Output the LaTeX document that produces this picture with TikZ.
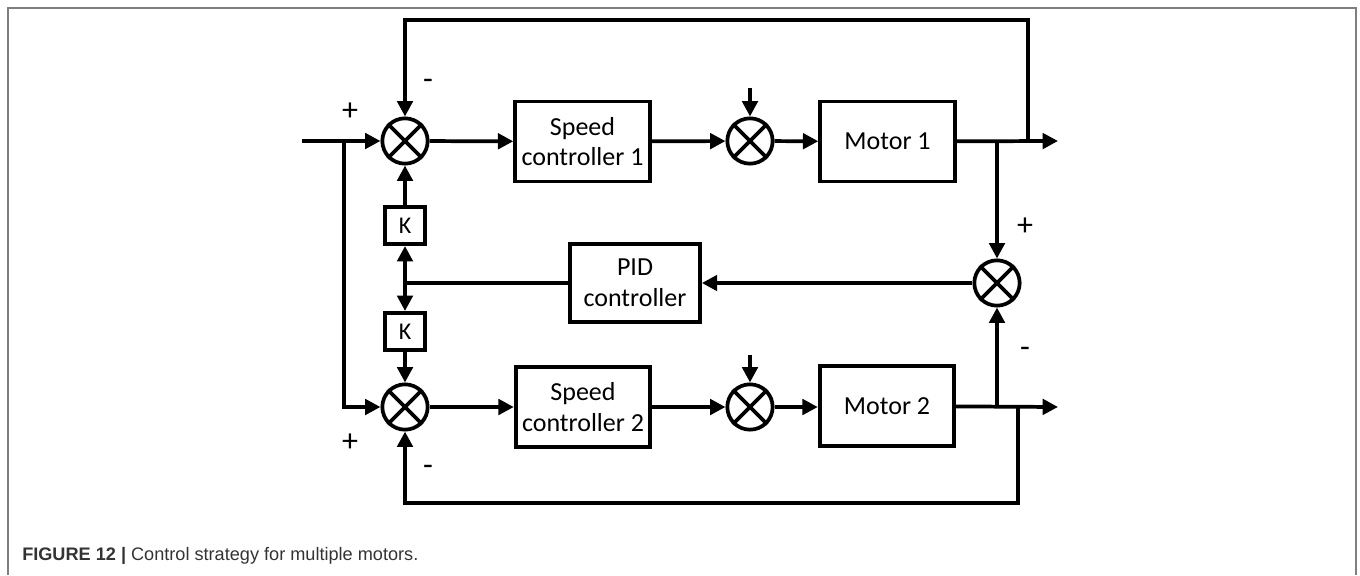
\documentclass[tikz,border=0pt]{standalone}
\usepackage{fontspec}
\setmainfont{Carlito}
\newfontfamily\capfont{Liberation Sans}
\usetikzlibrary{arrows.meta}
\definecolor{framegray}{HTML}{7F7F7F}
\definecolor{captext}{HTML}{333333}
\tikzset{
  ln/.style={line width=2.8pt},
  arr/.style={ln,-{Triangle[length=11.5pt,width=11.5pt]}},
  blk/.style={draw,ln,rectangle,minimum width=101pt,minimum height=60pt,inner sep=0pt,align=center,font=\fontsize{19.5}{23}\selectfont},
  kbox/.style={draw,ln,rectangle,minimum width=30pt,minimum height=28pt,inner sep=0pt,font=\fontsize{18}{20}\selectfont},
  sum/.style={draw,ln,circle,minimum size=34pt,inner sep=0pt},
  sgn/.style={font=\fontsize{24}{26}\selectfont,inner sep=0pt},
}
\newcommand{\crossit}[1]{\draw[ln] (#1.north west) -- (#1.south east) (#1.north east) -- (#1.south west);}
\begin{document}
\begin{tikzpicture}[x=0.75pt,y=-0.75pt]
\useasboundingbox (0,0) rectangle (1360,575);
% frame
\draw[framegray,line width=1.6pt] (8,575) -- (8,8) -- (1356,8) -- (1356,575);
% nodes
\node[sum] (s1) at (405,141) {};
\node[sum] (s2) at (405,407) {};
\node[sum] (sd1) at (750,141) {};
\node[sum] (sd2) at (750,407) {};
\node[sum] (s3) at (997,283) {};
\crossit{s1}\crossit{s2}\crossit{sd1}\crossit{sd2}\crossit{s3}
\node[blk] (sc1) at (582.5,141.5) {Speed\\controller 1};
\node[blk] (sc2) at (583,407) {Speed\\controller 2};
\node[blk] (m1) at (887.5,141.5) {Motor 1};
\node[blk] (m2) at (887,406) {Motor 2};
\node[blk,minimum width=97.5pt,minimum height=59pt] (pid) at (635,283) {PID\\controller};
\node[kbox] (k1) at (405,225.5) {K};
\node[kbox] (k2) at (405,331.5) {K};
% coordinates
\coordinate (in) at (302,141);
\coordinate (b1) at (344,141);
\coordinate (d1) at (750,88);
\coordinate (d2) at (750,355);
\coordinate (o1) at (1058,141);
\coordinate (o2) at (1058,407);
\coordinate (j1) at (997,141);
\coordinate (j2) at (997,407);
\coordinate (f1) at (1028,141);
\coordinate (ft) at (1028,20);
\coordinate (f2) at (1018,407);
\coordinate (fb) at (1018,503);
\coordinate (jk) at (405,283);
% connectors
\draw[arr] (in) -- (s1);
\draw[arr] (b1) |- (s2);
\draw[arr] (s1) -- (sc1);
\draw[arr] (sc1) -- (sd1);
\draw[arr] (sd1) -- (m1);
\draw[arr] (d1) -- (sd1);
\draw[arr] (m1) -- (o1);
\draw[arr] (j1) -- (s3);
\draw[arr] (f1) -- (ft) -| (s1);
\draw[arr] (s2) -- (sc2);
\draw[arr] (sc2) -- (sd2);
\draw[arr] (sd2) -- (m2.west |- sd2);
\draw[arr] (d2) -- (sd2);
\draw[arr] (m2) -- (o2);
\draw[arr] (j2) -- (s3);
\draw[arr] (f2) -- (fb) -| (s2);
\draw[arr] (s3) -- (pid);
\draw[ln] (pid.west) -- (jk);
\draw[arr] (jk) -- (k1);
\draw[arr] (jk) -- (k2);
\draw[arr] (k1) -- (s1);
\draw[arr] (k2) -- (s2);
% signs
\node[sgn] (p1) at (350,112) {+};
\node[sgn] (n1) at (428,84) {-};
\node[sgn] (p2) at (1025,227) {+};
\node[sgn] (n2) at (1025,352) {-};
\node[sgn] (p3) at (350,443) {+};
\node[sgn] (n3) at (428,470) {-};
% caption
\node[anchor=base west,inner sep=0pt,text=captext,font=\capfont\fontsize{13.6}{16}\selectfont] (cap) at (22,560) {\textbf{FIGURE 12 |} Control strategy for multiple motors.};
\end{tikzpicture}
\end{document}
